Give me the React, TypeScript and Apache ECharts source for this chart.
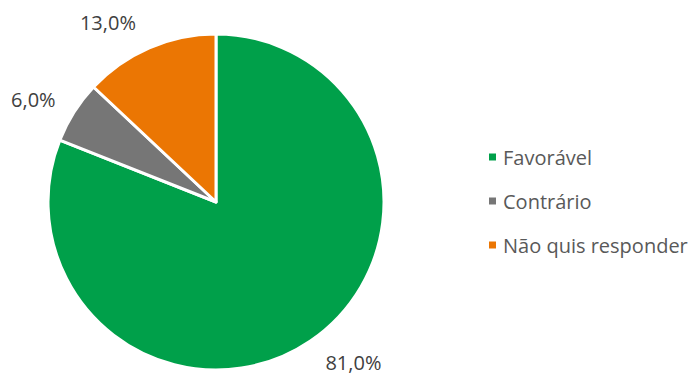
import React, { useEffect, useRef } from "react";
import * as echarts from "echarts";

const categories = ["Favorável", "Contrário", "Não quis responder"];
const values = [81.0, 6.0, 13.0];
const colors = ["#00A04A", "#767676", "#EB7603"];
// label nudges (styling, not data)
const labelNudges = [
  [1, 8],
  [0, -4],
  [-2, -11],
];

export default function App() {
  const ref = useRef<HTMLDivElement>(null);
  useEffect(() => {
    if (!ref.current) return;
    const chart = echarts.init(ref.current, null, { renderer: "svg" });
    chart.setOption({
      animation: false,
      color: colors,
      legend: {
        orient: "vertical",
        left: 482,
        top: 142,
        itemWidth: 9,
        itemHeight: 9,
        itemGap: 24,
        icon: "rect",
        textStyle: { fontFamily: "Open Sans", fontSize: 20, color: "#595959", padding: [0, 0, 0, 1] },
        data: categories,
      },
      series: [
        {
          type: "pie",
          center: [216, 202],
          radius: [0, 168],
          startAngle: 90,
          clockwise: true,
          itemStyle: { borderColor: "#ffffff", borderWidth: 3 },
          label: {
            show: true,
            position: "outside",
            formatter: (p: any) => p.value.toFixed(1).replace(".", ",") + "%",
            fontFamily: "Open Sans",
            fontSize: 20,
            lineHeight: 18,
            color: "#404040",
          },
          labelLine: { show: false, length: 16, length2: 0 },
          data: categories.map((c, i) => ({
            name: c,
            value: values[i],
            label: { offset: labelNudges[i] },
          })),
        },
      ],
    });
    return () => chart.dispose();
  }, []);
  return (
    <div
      ref={ref}
      style={{ position: "fixed", left: 0, top: 0, width: 694, height: 377, background: "#fff" }}
    />
  );
}
